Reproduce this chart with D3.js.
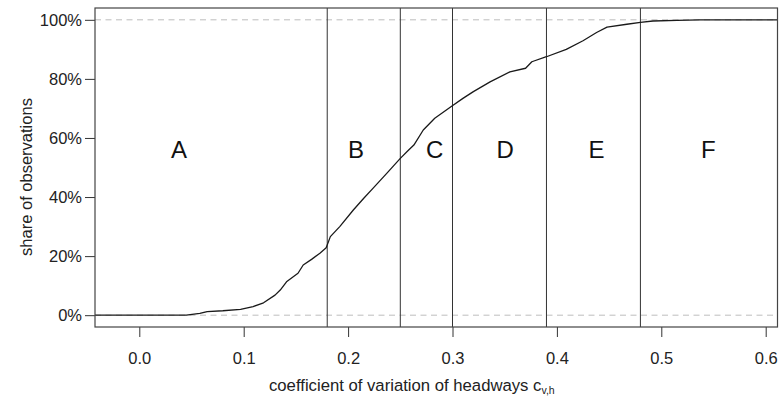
<!DOCTYPE html>
<html>
<head>
<meta charset="utf-8">
<script src="https://cdn.jsdelivr.net/npm/d3@7"></script>
<style>
  body { margin: 0; background: #fff; }
  #chart { width: 781px; height: 397px; }
  text { font-family: "Liberation Sans", Arial, sans-serif; fill: #222; }
</style>
</head>
<body>
<div id="chart"></div>
<script>

// cumulative share of observations vs coefficient of variation of headways
var cvValues = [-0.045, 0.045, 0.058, 0.065, 0.080, 0.097, 0.109, 0.119, 0.130, 0.135,
    0.141, 0.152, 0.157, 0.165, 0.173, 0.179, 0.183, 0.192, 0.205, 0.215,
    0.224, 0.237, 0.250, 0.258, 0.263, 0.272, 0.283, 0.2995, 0.310, 0.320,
    0.336, 0.355, 0.370, 0.376, 0.390, 0.409, 0.425, 0.438, 0.448, 0.467,
    0.480, 0.492, 0.515, 0.537, 0.615];
var shareValues = [0, 0, 0.006, 0.012, 0.015, 0.020, 0.029, 0.042, 0.068, 0.085,
    0.113, 0.142, 0.170, 0.189, 0.210, 0.228, 0.266, 0.300, 0.356, 0.396,
    0.430, 0.480, 0.531, 0.559, 0.576, 0.627, 0.667, 0.708, 0.734, 0.757,
    0.790, 0.824, 0.836, 0.858, 0.875, 0.900, 0.929, 0.957, 0.975, 0.985,
    0.991, 0.996, 0.998, 1.0, 1.0];

// class boundaries and labels
var boundaries = [0.18, 0.25, 0.30, 0.39, 0.48];
var classLabels = ["A", "B", "C", "D", "E", "F"];
var labelX = [0.038, 0.2075, 0.283, 0.3505, 0.438, 0.545];
var labelShare = 0.56;

var xTicks = [0.0, 0.1, 0.2, 0.3, 0.4, 0.5, 0.6];
var yTicks = [0, 0.2, 0.4, 0.6, 0.8, 1.0];
var refLines = [0, 1];

var width = 781, height = 397;
var plotLeft = 95, plotRight = 777.5, plotTop = 8, plotBottom = 327;

var svg = d3.select("#chart")
    .append("svg")
    .attr("width", width)
    .attr("height", height);

var x = d3.scaleLinear()
    .domain([(plotLeft - 139.3) / 1044, (plotRight - 139.3) / 1044])
    .range([plotLeft, plotRight]);

var y = d3.scaleLinear()
    .domain([-0.04, 1.04])
    .range([plotBottom, plotTop]);

svg.append("clipPath").attr("id", "plotclip")
    .append("rect")
    .attr("x", plotLeft).attr("y", plotTop)
    .attr("width", plotRight - plotLeft).attr("height", plotBottom - plotTop);

// dashed reference lines at 0% and 100%
svg.selectAll("line.ref")
    .data(refLines)
    .enter()
    .append("line")
        .attr("class", "ref")
        .attr("x1", plotLeft)
        .attr("x2", plotRight)
        .attr("y1", function(d){ return y(d); })
        .attr("y2", function(d){ return y(d); })
        .attr("stroke", "#bdbdbd")
        .attr("stroke-width", 1)
        .attr("stroke-dasharray", "6,4.5");

// class boundaries
svg.selectAll("line.bound")
    .data(boundaries)
    .enter()
    .append("line")
        .attr("class", "bound")
        .attr("x1", function(d){ return x(d); })
        .attr("x2", function(d){ return x(d); })
        .attr("y1", plotTop)
        .attr("y2", plotBottom)
        .attr("stroke", "#333")
        .attr("stroke-width", 1);

// the curve
var pts = cvValues.map(function(v, i){ return [v, shareValues[i]]; });
var line = d3.line()
    .x(function(d){ return x(d[0]); })
    .y(function(d){ return y(d[1]); });

svg.append("path")
    .datum(pts)
    .attr("clip-path", "url(#plotclip)")
    .attr("fill", "none")
    .attr("stroke", "#1a1a1a")
    .attr("stroke-width", 1.3)
    .attr("stroke-linejoin", "round")
    .attr("d", line);

// class letters
svg.selectAll("text.cls")
    .data(classLabels)
    .enter()
    .append("text")
        .attr("class", "cls")
        .attr("x", function(d, i){ return x(labelX[i]); })
        .attr("y", y(labelShare))
        .attr("dy", "0.35em")
        .attr("text-anchor", "middle")
        .style("font-size", "24px")
        .style("fill", "#111")
        .text(function(d){ return d; });

// axes
var xAxis = d3.axisBottom(x)
    .tickValues(xTicks)
    .tickSize(10)
    .tickPadding(15)
    .tickFormat(d3.format(".1f"));

var gx = svg.append("g")
    .attr("transform", "translate(0," + plotBottom + ")")
    .call(xAxis);

var yAxis = d3.axisLeft(y)
    .tickValues(yTicks)
    .tickSize(10)
    .tickPadding(3)
    .tickFormat(d3.format(".0%"));

var gy = svg.append("g")
    .attr("transform", "translate(" + plotLeft + ",0)")
    .call(yAxis);

[gx, gy].forEach(function(g){
    g.select(".domain").remove();
    g.selectAll(".tick line").attr("stroke", "#333");
    g.selectAll(".tick text")
        .style("font-size", "16.5px")
        .style("font-family", "'Liberation Sans', Arial, sans-serif")
        .attr("fill", "#222");
});

// box
svg.append("rect")
    .attr("x", plotLeft)
    .attr("y", plotTop)
    .attr("width", plotRight - plotLeft)
    .attr("height", plotBottom - plotTop)
    .attr("fill", "none")
    .attr("stroke", "#444")
    .attr("stroke-width", 1.2);

// axis titles
var xt = svg.append("text")
    .attr("x", 269)
    .attr("y", 391)
    .style("font-size", "16.7px");
xt.append("tspan").text("coefficient of variation of headways c");
xt.append("tspan")
    .attr("dy", 3)
    .style("font-size", "10.5px")
    .text("v,h");

svg.append("text")
    .attr("transform", "translate(32,177) rotate(-90)")
    .attr("text-anchor", "middle")
    .style("font-size", "16.5px")
    .text("share of observations");

</script>
</body>
</html>
